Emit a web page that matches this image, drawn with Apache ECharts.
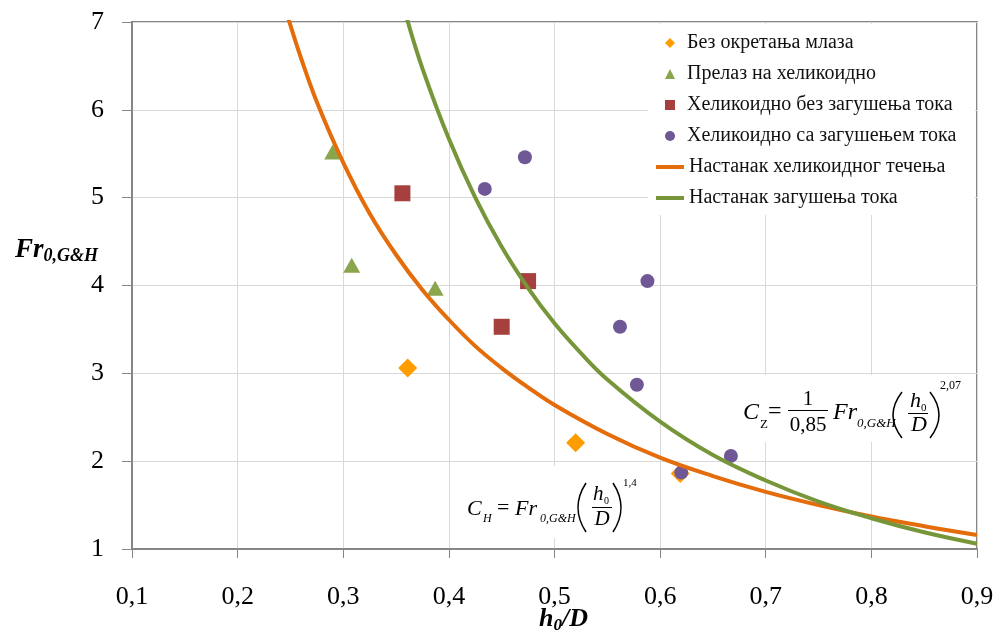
<!DOCTYPE html>
<html><head><meta charset="utf-8">
<script src="https://cdn.jsdelivr.net/npm/echarts@6/dist/echarts.min.js"></script>
<style>html,body{margin:0;padding:0;background:#fff}#c{width:997px;height:638px}</style>
</head><body><div id="c"></div>
<script>
// ---- data ----
const xTicks = [0.1, 0.2, 0.3, 0.4, 0.5, 0.6, 0.7, 0.8, 0.9];
const yTicks = [1, 2, 3, 4, 5, 6, 7];

const noRotationX = [0.361, 0.520, 0.619];
const noRotationY = [3.06, 2.21, 1.86];

const transitionX = [0.290, 0.308, 0.387];
const transitionY = [5.52, 4.23, 3.97];

const helicalFreeX = [0.356, 0.475, 0.450];
const helicalFreeY = [5.05, 4.05, 3.53];

const helicalChokedX = [0.434, 0.472, 0.588, 0.562, 0.578, 0.620, 0.667];
const helicalChokedY = [5.10, 5.46, 4.05, 3.53, 2.87, 1.87, 2.06];

const helicalOnsetX = [0.248, 0.26, 0.275, 0.3, 0.325, 0.35, 0.375, 0.4, 0.425, 0.45, 0.475, 0.5, 0.55, 0.6, 0.65, 0.7, 0.75, 0.8, 0.85, 0.9];
const helicalOnsetY = [7.04, 6.59, 6.09, 5.40, 4.82, 4.35, 3.95, 3.61, 3.31, 3.06, 2.84, 2.64, 2.31, 2.04, 1.83, 1.65, 1.50, 1.37, 1.26, 1.16];

const chokingOnsetX = [0.36, 0.375, 0.4, 0.425, 0.45, 0.475, 0.5, 0.525, 0.55, 0.6, 0.65, 0.7, 0.75, 0.8, 0.85, 0.9];
const chokingOnsetY = [7.05, 6.47, 5.67, 5.00, 4.44, 3.97, 3.57, 3.23, 2.93, 2.45, 2.07, 1.78, 1.54, 1.35, 1.19, 1.06];

const seriesNames = ['Без окретања млаза', 'Прелаз на хеликоидно', 'Хеликоидно без загушења тока', 'Хеликоидно са загушењем тока', 'Настанак хеликоидног течења', 'Настанак загушења тока'];

// ---- build ----
const zip = (xs, ys) => xs.map((x, i) => [x, ys[i]]);
const SERIF = 'Liberation Serif';

function t(x, y, text, size, opts) {
  opts = opts || {};
  return {
    type: 'text', x: x, y: y, z: 10,
    style: {
      text: text, fontSize: size, fontFamily: SERIF,
      fontStyle: opts.italic ? 'italic' : 'normal',
      fill: '#000',
      align: opts.align || 'left', verticalAlign: 'middle',
      textAlign: opts.align || 'left', textVerticalAlign: 'middle'
    }
  };
}
function ln(x1, y1, x2, y2) {
  return { type: 'line', z: 10, shape: { x1: x1, y1: y1, x2: x2, y2: y2 }, style: { stroke: '#000', lineWidth: 1 } };
}
function paren(x1, y1, cx, y2) {
  return { type: 'bezierCurve', z: 10, shape: { x1: x1, y1: y1, x2: x1, y2: y2, cpx1: cx, cpy1: (y1 + y2) / 2 }, style: { stroke: '#000', lineWidth: 1.5, fill: null } };
}
function box(x, y, w, h) {
  return { type: 'rect', z: 1, shape: { x: x, y: y, width: w, height: h }, style: { fill: '#fff' } };
}

const graphics = [
  box(648, 24, 327, 191),
  box(735, 375, 238, 67),
  box(458, 466, 192, 72),
  // C_Z formula
  t(743, 413, 'C', 24, { italic: true }),
  t(760, 425, 'Z', 13),
  t(768, 412, '=', 24),
  t(808, 399, '1', 21, { align: 'center' }),
  ln(788, 410.5, 828, 410.5),
  t(808, 425, '0,85', 21, { align: 'center' }),
  t(833, 413, 'Fr', 24, { italic: true }),
  t(857, 424, '0,G&H', 13, { italic: true }),
  paren(902, 392, 884, 438),
  t(910, 401, 'h', 22, { italic: true }),
  t(921, 408, '0', 11),
  ln(908, 413.5, 928, 413.5),
  t(919, 425, 'D', 22, { italic: true, align: 'center' }),
  paren(930, 392, 948, 438),
  t(940, 386, '2,07', 12),
  // C_H formula
  t(467, 509, 'C', 22, { italic: true }),
  t(483, 519, 'H', 12, { italic: true }),
  t(497, 508, '=', 22),
  t(515, 509, 'Fr', 22, { italic: true }),
  t(540, 519, '0,G&H', 12, { italic: true }),
  paren(586, 483, 570, 532),
  t(593, 494, 'h', 21, { italic: true }),
  t(604, 501, '0', 10),
  ln(592, 507.5, 612, 507.5),
  t(602, 519, 'D', 21, { italic: true, align: 'center' }),
  paren(613, 483, 629, 532),
  t(623, 483, '1,4', 11)
];

const chart = echarts.init(document.getElementById('c'), null, { renderer: 'canvas' });
const fmt = v => (Math.round(v * 10) / 10).toFixed(1).replace('.', ',');

chart.setOption({
  animation: false,
  backgroundColor: '#fff',
  textStyle: { fontFamily: SERIF },
  grid: { left: 132, right: 20, top: 22, bottom: 89, show: true, borderColor: '#868686', borderWidth: 2, backgroundColor: 'transparent', containLabel: false, outerBoundsMode: 'none' },
  xAxis: {
    type: 'value', min: xTicks[0], max: xTicks[xTicks.length - 1], interval: 0.1,
    axisLine: { show: true, lineStyle: { color: '#868686', width: 2 } },
    axisTick: { show: true, length: 9, lineStyle: { color: '#868686', width: 1 } },
    splitLine: { show: true, lineStyle: { color: '#d9d9d9', width: 1 } },
    axisLabel: { formatter: fmt, fontSize: 26, fontFamily: SERIF, color: '#000', margin: 35 },
    name: '{a|h}{b|0}{a|/D}', nameLocation: 'middle', nameGap: 55, nameMoveOverlap: false,
    nameTextStyle: {
      padding: [0, 0, 0, 18],
      rich: {
        a: { fontFamily: SERIF, fontSize: 26, fontStyle: 'italic', fontWeight: 'bold', color: '#000', lineHeight: 30 },
        b: { fontFamily: SERIF, fontSize: 17, fontStyle: 'italic', fontWeight: 'bold', color: '#000', lineHeight: 4, verticalAlign: 'bottom' }
      }
    }
  },
  yAxis: {
    type: 'value', min: yTicks[0], max: yTicks[yTicks.length - 1], interval: 1,
    axisLine: { show: true, lineStyle: { color: '#868686', width: 2 } },
    axisTick: { show: true, length: 10, lineStyle: { color: '#868686', width: 1 } },
    splitLine: { show: true, lineStyle: { color: '#d9d9d9', width: 1 } },
    axisLabel: { fontSize: 26, fontFamily: SERIF, color: '#000', margin: 28 },
    name: '{a|Fr}{b|0,G&H}', nameLocation: 'middle', nameRotate: 0, nameGap: 34, nameMoveOverlap: false,
    nameTextStyle: {
      align: 'right', verticalAlign: 'middle', padding: [0, 0, 70, 0],
      rich: {
        a: { fontFamily: SERIF, fontSize: 27, fontStyle: 'italic', fontWeight: 'bold', color: '#000', lineHeight: 30 },
        b: { fontFamily: SERIF, fontSize: 18, fontStyle: 'italic', fontWeight: 'bold', color: '#000', lineHeight: 14, verticalAlign: 'bottom' }
      }
    }
  },
  legend: [
    {
      data: seriesNames.slice(0, 4), orient: 'vertical', left: 660, top: 28,
      itemWidth: 10, itemHeight: 10, itemGap: 11, z: 20,
      textStyle: { fontFamily: SERIF, fontSize: 20, color: '#111', padding: [0, 0, 0, 7] }
    },
    {
      data: seriesNames.slice(4).map(n => ({ name: n, icon: 'rect' })), orient: 'vertical', left: 651, top: 152,
      itemWidth: 28, itemHeight: 4, itemGap: 11, z: 20,
      textStyle: { fontFamily: SERIF, fontSize: 20, color: '#111' }
    }
  ],
  graphic: { elements: graphics },
  series: [
    { name: seriesNames[0], type: 'scatter', symbol: 'diamond', symbolSize: 19, itemStyle: { color: '#FF9C00', opacity: 1 }, data: zip(noRotationX, noRotationY), z: 3 },
    { name: seriesNames[1], type: 'scatter', symbol: 'triangle', symbolSize: [17, 15], itemStyle: { color: '#8AA64C', opacity: 1 }, data: zip(transitionX, transitionY), z: 3 },
    { name: seriesNames[2], type: 'scatter', symbol: 'rect', symbolSize: 16, itemStyle: { color: '#A5403F', opacity: 1 }, data: zip(helicalFreeX, helicalFreeY), z: 3 },
    { name: seriesNames[3], type: 'scatter', symbol: 'circle', symbolSize: 14, itemStyle: { color: '#6F5895', opacity: 1 }, data: zip(helicalChokedX, helicalChokedY), z: 3 },
    { name: seriesNames[4], type: 'line', smooth: 0.4, symbol: 'none', lineStyle: { color: '#E46C0A', width: 4 }, itemStyle: { color: '#E46C0A' }, data: zip(helicalOnsetX, helicalOnsetY), z: 4 },
    { name: seriesNames[5], type: 'line', smooth: 0.4, symbol: 'none', lineStyle: { color: '#77963A', width: 4 }, itemStyle: { color: '#77963A' }, data: zip(chokingOnsetX, chokingOnsetY), z: 4 }
  ]
});
</script></body></html>
